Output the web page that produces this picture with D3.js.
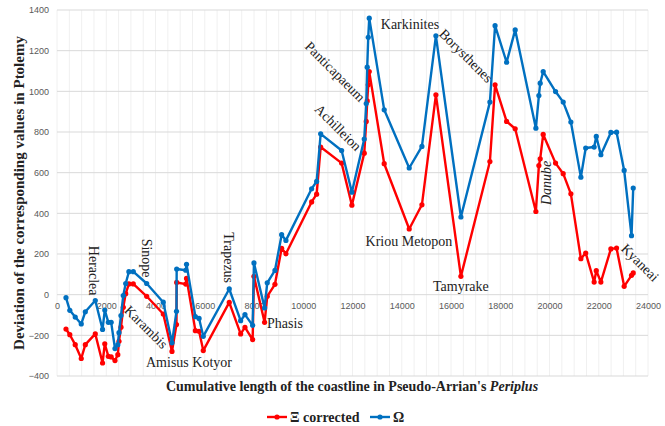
<!DOCTYPE html>
<html>
<head>
<meta charset="utf-8">
<script src="https://cdn.jsdelivr.net/npm/d3@7"></script>
<style>
  html, body { margin: 0; padding: 0; background: #fff; }
  svg { display: block; }
</style>
</head>
<body>
<svg id="chart" width="665" height="426"></svg>
<script>
// ---- data ----
const distances = [365, 520, 740, 985, 1150, 1555, 1850, 1940, 2085, 2200, 2355, 2470, 2517, 2598, 2692, 2790,
  2920, 3098, 3642, 4316, 4670, 4852, 4860, 5229, 5260, 5620, 5770, 5940, 6995, 7458, 7633, 7945, 7998,
  8430, 8538, 8851, 9123, 9297, 10341, 10544, 10707, 11558, 11975, 12477, 12558, 12598, 12639, 12680,
  13288, 14303, 14819, 15387, 16402, 17580, 17790, 18258, 18607, 19447, 19569, 19622, 19744, 20246,
  20557, 20868, 21274, 21470, 21813, 21900, 22086, 22492, 22723, 23032, 23331, 23400];
const xiCorrected = [-169, -197, -246, -314, -246, -193, -336, -242, -303, -306, -324, -295, -229, -160, -62, 5,
  53, 53, -8, -95, -279, -147, 60, 52, 80, -177, -180, -275, -38, -193, -161, -221, 90,
  -136, -8, 51, 228, 201, 456, 494, 726, 647, 440, 696, 852, 953, 1032, 1097,
  644, 323, 442, 983, 90, 655, 1032, 852, 816, 409, 635, 668, 788, 647,
  595, 496, 177, 205, 62, 118, 62, 225, 229, 41, 95, 107];
const omega = [-15, -77, -110, -144, -84, -29, -171, -76, -136, -136, -265, -246, -187, -103, -4, 55,
  113, 113, 55, -37, -237, -82, 126, 120, 149, -108, -117, -205, 28, -128, -98, -151, 156,
  -65, 58, 119, 295, 267, 521, 557, 791, 709, 504, 765, 940, 1119, 1266, 1360,
  909, 623, 729, 1273, 382, 947, 1323, 1143, 1302, 819, 979, 1040, 1097, 999,
  947, 849, 578, 721, 726, 778, 688, 798, 799, 611, 290, 524];
const yTicks = [-400, -200, 0, 200, 400, 600, 800, 1000, 1200, 1400];
const xTicks = [0, 2000, 4000, 6000, 8000, 10000, 12000, 14000, 16000, 18000, 20000, 22000, 24000];
const seriesNames = ["\u039E corrected", "\u03A9"];
const placeNames = ["Heraclea", "Sinope", "Trapezus", "Karambis", "Amisus Kotyor", "Phasis", "Achilleion",
  "Panticapaeum", "Karkinites", "Borysthenes", "Kriou Metopon", "Tamyrake", "Danube", "Kyaneai"];
// where each place name sits, in data units, with its angle
const placeX = [1462, 3654, 6983, 3613, 5359, 9257, 11409, 11287, 14332, 16605, 14291, 16402, 19894, 23670];
const placeY = [118, 180, 182, -160, -334, -143, 821, 1096, 1327, 1174, 260, 39, 550, 157];
const placeAngle = [90, 90, 90, 45, 0, 0, 45, 45, 0, 45, 0, 0, -90, 45];

// ---- layout ----
const svg = d3.select("#chart");
const x = d3.scaleLinear().domain([0, 24000]).range([57, 648]);
const y = d3.scaleLinear().domain([-400, 1400]).range([376, 10]);
const serif = "'Liberation Serif', 'Times New Roman', serif";
const sans = "'Liberation Sans', Arial, sans-serif";

// minor vertical gridlines every 500
svg.append("g").selectAll("line")
  .data(d3.range(0, 24001, 500))
  .join("line")
  .attr("x1", d => x(d)).attr("x2", d => x(d))
  .attr("y1", y(1400)).attr("y2", y(-400))
  .attr("stroke", "#f0f0f0").attr("stroke-width", 1);

// major horizontal gridlines
svg.append("g").selectAll("line")
  .data(yTicks)
  .join("line")
  .attr("x1", x(0)).attr("x2", x(24000))
  .attr("y1", d => y(d)).attr("y2", d => y(d))
  .attr("stroke", "#d9d9d9").attr("stroke-width", 1);

// y axis tick labels
const yAxis = d3.axisLeft(y).tickValues(yTicks).tickSize(0).tickPadding(8).tickFormat(d3.format("d"));
const gy = svg.append("g").attr("transform", `translate(${x(0)},0)`).call(yAxis);
gy.select(".domain").remove();
gy.selectAll("text").attr("font-family", sans).attr("font-size", 9).attr("fill", "#595959");

// x axis tick labels at the zero line
const xAxis = d3.axisBottom(x).tickValues(xTicks).tickSize(0).tickPadding(8).tickFormat(d3.format("d"));
const gx = svg.append("g").attr("transform", `translate(0,${y(0)})`).call(xAxis);
gx.select(".domain").remove();
gx.selectAll("text").attr("font-family", sans).attr("font-size", 9).attr("fill", "#595959");

// series
const series = [
  { name: seriesNames[0], values: xiCorrected, color: "#ff0000" },
  { name: seriesNames[1], values: omega, color: "#0070c0" }
];
const line = d3.line().x(d => x(d[0])).y(d => y(d[1]));
series.forEach(s => {
  const pts = distances.map((d, i) => [d, s.values[i]]);
  svg.append("path").datum(pts)
    .attr("d", line).attr("fill", "none")
    .attr("stroke", s.color).attr("stroke-width", 2.4).attr("stroke-linejoin", "round");
  svg.append("g").selectAll("circle").data(pts).join("circle")
    .attr("cx", d => x(d[0])).attr("cy", d => y(d[1])).attr("r", 2.6)
    .attr("fill", s.color);
});

// place labels
svg.append("g").selectAll("text")
  .data(placeNames.map((n, i) => ({ n, px: placeX[i], py: placeY[i], a: placeAngle[i] })))
  .join("text")
  .attr("transform", d => `translate(${x(d.px)},${y(d.py)}) rotate(${d.a})`)
  .attr("text-anchor", "middle").attr("dominant-baseline", "central")
  .attr("font-family", serif).attr("font-size", 14)
  .attr("font-style", d => d.n === "Danube" ? "italic" : "normal")
  .attr("fill", "#222")
  .text(d => d.n);

// axis titles
svg.append("text")
  .attr("transform", "translate(19,193) rotate(-90)")
  .attr("text-anchor", "middle").attr("dominant-baseline", "central")
  .attr("font-family", serif).attr("font-size", 15).attr("font-weight", "bold").attr("fill", "#222")
  .text("Deviation of the corresponding  values in Ptolemy");

const xt = svg.append("text")
  .attr("x", 352).attr("y", 391)
  .attr("text-anchor", "middle")
  .attr("font-family", serif).attr("font-size", 14).attr("font-weight", "bold").attr("fill", "#222");
xt.append("tspan").text("Cumulative  length of the coastline in Pseudo-Arrian's ");
xt.append("tspan").attr("font-style", "italic").text("Periplus");

// legend
const legendX = [267, 370];
series.forEach((s, i) => {
  const g = svg.append("g").attr("transform", `translate(${legendX[i]},417)`);
  g.append("line").attr("x1", 0).attr("x2", 20).attr("y1", 0).attr("y2", 0)
    .attr("stroke", s.color).attr("stroke-width", 2.4);
  g.append("circle").attr("cx", 10).attr("cy", 0).attr("r", 2.6).attr("fill", s.color);
  g.append("text").attr("x", 23).attr("y", 0).attr("dominant-baseline", "central")
    .attr("font-family", serif).attr("font-size", 14).attr("font-weight", "bold").attr("fill", "#222")
    .text(s.name);
});
</script>
</body>
</html>
